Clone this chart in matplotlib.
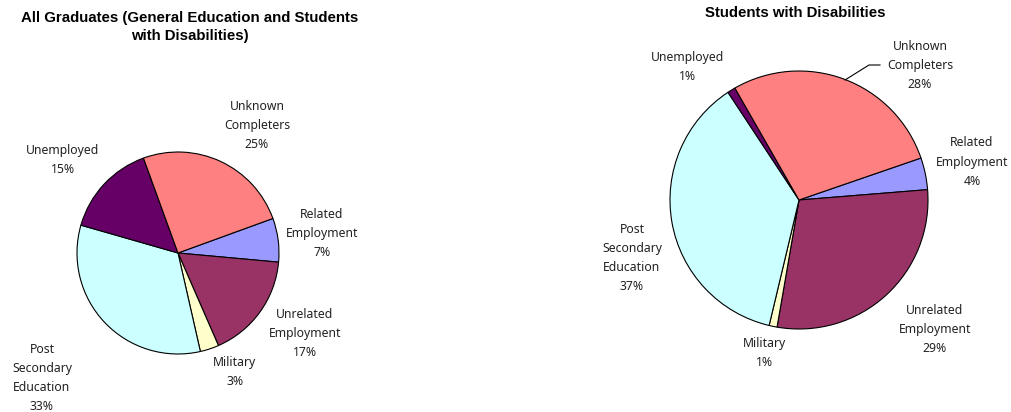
import matplotlib.pyplot as plt

# data
categories = ['Related\nEmployment', 'Unrelated\nEmployment', 'Military',
              'Post\nSecondary\nEducation', 'Unemployed', 'Unknown\nCompleters']
all_grads = [7, 17, 3, 33, 15, 25]
swd = [4, 29, 1, 37, 1, 28]
colors = ['#9999FF', '#993366', '#FFFFCC', '#CCFFFF', '#660066', '#FF8080']

# label centres in pixels (x, y from top)
left_lbl = [(322, 233), (305, 333), (235, 372), (42, 378), (63, 160), (257, 125)]
right_lbl = [(972, 162), (935, 330), (765, 353), (632, 258), (688, 67), (920, 65)]

W, H = 1012, 412
fig = plt.figure(figsize=(W / 100, H / 100), dpi=100)
ax = fig.add_axes([0, 0, 1, 1])

wp = dict(edgecolor='black', linewidth=0.8)
ax.pie(all_grads, colors=colors, startangle=20, counterclock=False,
       center=(178, H - 253), radius=101, wedgeprops=wp, frame=True)
ax.pie(swd, colors=colors, startangle=19, counterclock=False,
       center=(799, H - 200), radius=129, wedgeprops=wp, frame=True)

lbl_font = dict(family='Noto Sans', fontsize=8.8, ha='center', va='center',
                linespacing=1.6, color='#222222')
for cat, v, (x, y) in zip(categories, all_grads, left_lbl):
    ax.text(x, H - y, f'{cat}\n{v}%', **lbl_font)
for cat, v, (x, y) in zip(categories, swd, right_lbl):
    ax.text(x, H - y, f'{cat}\n{v}%', **lbl_font)

# leader line for Unknown Completers on the right pie
ax.plot([845, 869, 880], [H - 80, H - 65, H - 65], color='black', lw=0.8)

title_font = dict(family='Liberation Sans', fontsize=10.8, fontweight='bold',
                  ha='center', va='center', linespacing=1.4)
ax.text(190, H - 27, 'All Graduates (General Education and Students\nwith Disabilities)',
        **title_font)
ax.text(795, H - 13, 'Students with Disabilities', **title_font)

ax.set_xlim(0, W)
ax.set_ylim(0, H)
ax.set_aspect('auto')
ax.axis('off')

fig.savefig('out.png', dpi=100)
